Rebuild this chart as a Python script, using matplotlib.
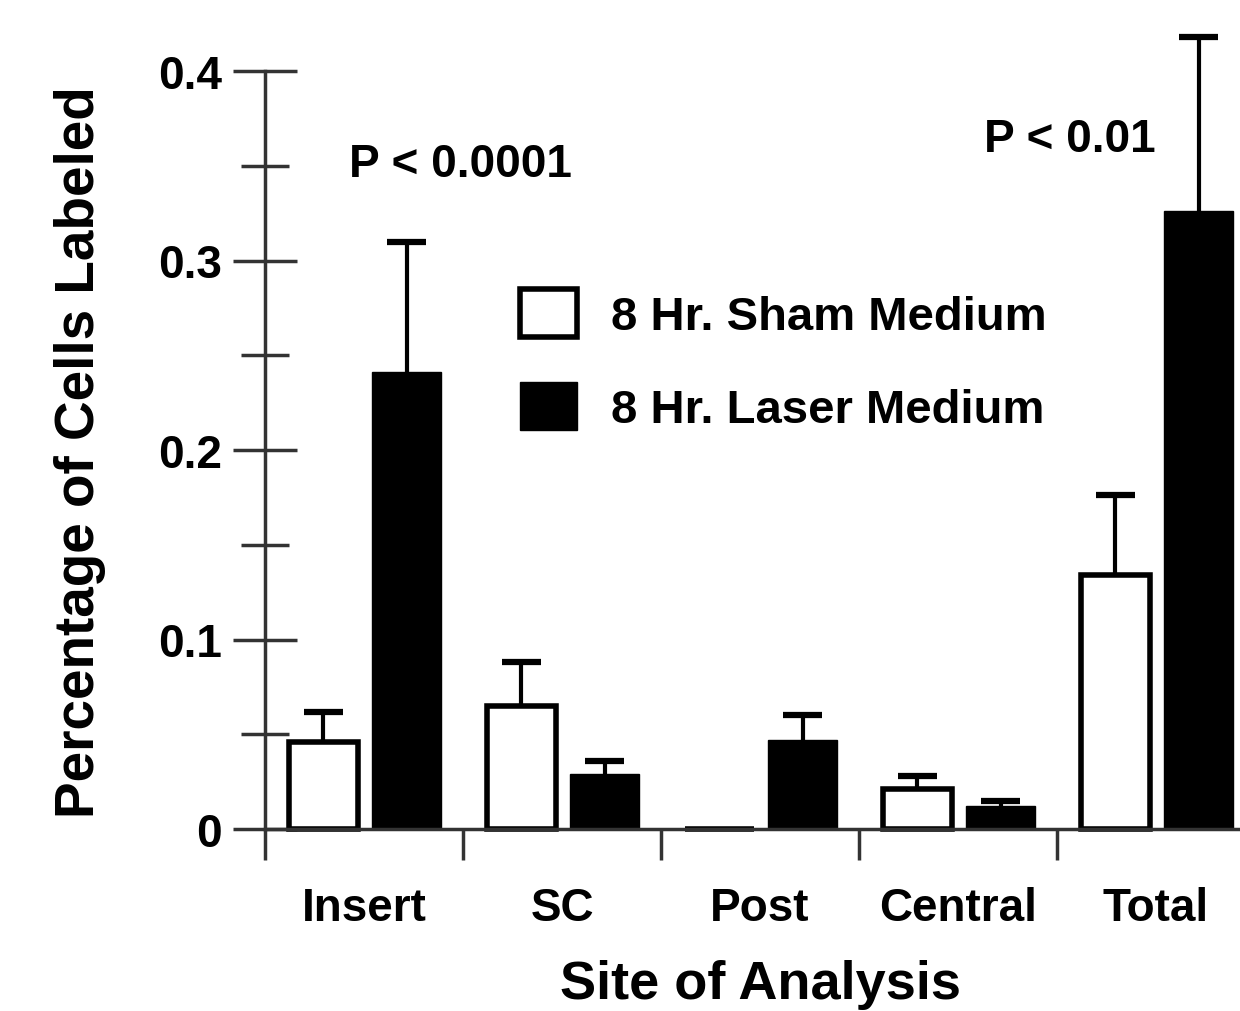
import matplotlib
matplotlib.use('Agg')
import matplotlib.pyplot as plt
from matplotlib.patches import Patch
import numpy as np

plt.rcParams['font.family'] = ['Liberation Sans', 'DejaVu Sans']
plt.rcParams['font.weight'] = 'bold'

sites = ['Insert', 'SC', 'Post', 'Central', 'Total']
sham = [0.046, 0.065, 0.0, 0.021, 0.134]
sham_err = [0.016, 0.023, 0.0, 0.007, 0.042]
laser = [0.241, 0.029, 0.047, 0.012, 0.326]
laser_err = [0.069, 0.007, 0.013, 0.003, 0.092]
yticks = [0, 0.1, 0.2, 0.3, 0.4]
ytick_labels = ['0', '0.1', '0.2', '0.3', '0.4']
yminor = [0.05, 0.15, 0.25, 0.35]
series_labels = ['8 Hr. Sham Medium', '8 Hr. Laser Medium']
p_labels = ['P < 0.0001', 'P < 0.01']

W, H = 1240, 1012
fig = plt.figure(figsize=(W / 100, H / 100), dpi=100)
ax = fig.add_axes([265 / W, (H - 830) / H, 990 / W, 758 / H])

spine_col = '#333333'
x = np.arange(len(sites))
bw = 0.35
cap = 0.1
xs = x + 0.295
xl = x + 0.715

ax.bar(xs, sham, bw, color='white', edgecolor='black', linewidth=4, zorder=3, clip_on=False)
ax.bar(xl, laser, bw, color='black', edgecolor='black', linewidth=1, zorder=3, clip_on=False)

# one-sided (upper) error bars
for xx, v, e in ((xs, sham, sham_err), (xl, laser, laser_err)):
    v = np.asarray(v)
    e = np.asarray(e)
    has = e > 0
    top = v + e
    ax.vlines(xx[has], v[has], top[has], color='black', linewidth=3, zorder=2, clip_on=False)
    ax.hlines(top[has], xx[has] - cap, xx[has] + cap, color='black', linewidth=4.5,
              zorder=2, clip_on=False)

ax.set_xlim(0, len(sites))
ax.set_ylim(0, 0.4)

for s in ['top', 'right']:
    ax.spines[s].set_visible(False)
for s in ['left', 'bottom']:
    ax.spines[s].set_linewidth(2.5)
    ax.spines[s].set_color(spine_col)
ax.spines['bottom'].set_zorder(5)

ax.set_yticks(yticks)
ax.set_yticklabels(ytick_labels)
ax.set_yticks(yminor, minor=True)
ax.tick_params(axis='y', which='major', direction='inout', length=46, width=2.5,
               color=spine_col, pad=8, labelsize=33)
ax.tick_params(axis='y', which='minor', direction='inout', length=34, width=2.5,
               color=spine_col)

ax.set_xticks(np.arange(0, len(sites) + 1))
ax.set_xticklabels([])
ax.set_xticks(x + 0.5, minor=True)
ax.set_xticklabels(sites, minor=True)
ax.tick_params(axis='x', which='major', direction='out', length=22, width=2.5, color=spine_col)
ax.tick_params(axis='x', which='minor', length=0, pad=41, labelsize=33)

fig.text(80 / W, 1 - 452 / H, 'Percentage of Cells Labeled', rotation=90,
         ha='center', va='center', fontsize=39.5, fontweight='bold')
fig.text(760 / W, 1 - 985 / H, 'Site of Analysis', ha='center', va='center',
         fontsize=39, fontweight='bold')

fig.text(460 / W, 1 - 165 / H, p_labels[0], ha='center', va='center', fontsize=33, fontweight='bold')
fig.text(1070 / W, 1 - 140 / H, p_labels[1], ha='center', va='center', fontsize=33, fontweight='bold')

handles = [Patch(facecolor='white', edgecolor='black', linewidth=4),
           Patch(facecolor='black', edgecolor='black', linewidth=1)]
leg = ax.legend(handles, series_labels, loc='upper left',
                bbox_to_anchor=(520 / W, 1 - 290 / H), bbox_transform=fig.transFigure,
                frameon=False, fontsize=34, handlelength=1.2, handleheight=1.2,
                handletextpad=0.72, labelspacing=0.9, borderpad=0, borderaxespad=0)

fig.savefig('out.png', dpi=100, facecolor='white')
